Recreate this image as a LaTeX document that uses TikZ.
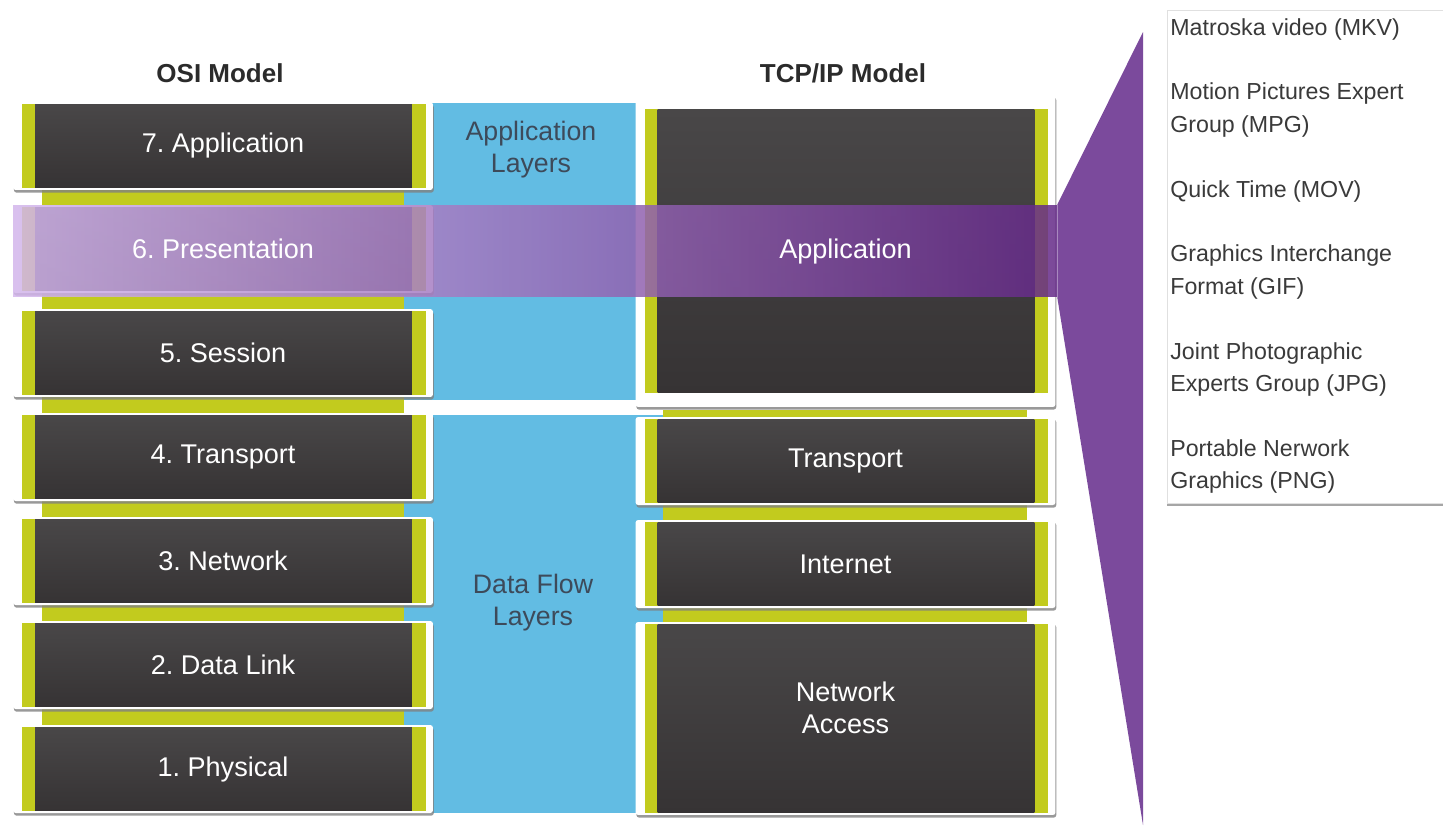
\documentclass[tikz,border=0pt]{standalone}
\usepackage{fontspec}
\setmainfont{Liberation Sans}
\frenchspacing
\usetikzlibrary{shadows}

\definecolor{boxtop}{HTML}{494748}
\definecolor{boxbot}{HTML}{363334}
\definecolor{strip}{HTML}{C2CB1E}
\definecolor{sky}{HTML}{62BCE3}
\definecolor{bandlight}{HTML}{D3B6EC}
\definecolor{banddark}{HTML}{652A88}
\definecolor{fan}{HTML}{7B4A9C}
\definecolor{skytext}{HTML}{3D4A5A}
\definecolor{listtext}{HTML}{3A3A3A}
\definecolor{titletext}{HTML}{2B2B2B}

\tikzset{
  layer/.style={fill=white, rounded corners=1.5pt, minimum width=8.4cm, minimum height=1.76cm,
    inner sep=0pt, text=white, align=center, font=\fontsize{15.4}{18}\selectfont,
    drop shadow={shadow xshift=0.5pt, shadow yshift=-1.5pt, opacity=0.8},
    path picture={
      \fill[strip, sharp corners] ([xshift=5.1pt,yshift=#1]path picture bounding box.south west)
        rectangle ([xshift=-4pt,yshift=-#1]path picture bounding box.north east);
      \shade[top color=boxtop, bottom color=boxbot, sharp corners]
        ([xshift=12.5pt,yshift=#1]path picture bounding box.south west)
        rectangle ([xshift=-12pt,yshift=-#1]path picture bounding box.north east);
    }},
  layer/.default=1.4pt,
  band/.style={left color=bandlight, right color=banddark, fill opacity=0.85,
    minimum width=20.88cm, minimum height=1.84cm, inner sep=0pt},
  bandtext/.style={text=white, align=center, font=\fontsize{15.4}{18}\selectfont},
  title/.style={text=titletext, font=\bfseries\fontsize{14.8}{18}\selectfont},
  skylabel/.style={text=skytext, align=center, font=\fontsize{15.2}{18.2}\selectfont},
  fmttext/.style={text=listtext, anchor=base west, inner sep=0pt, font=\fontsize{13.2}{18}\selectfont},
}

\begin{document}
\begin{tikzpicture}[x=0.02cm, y=-0.02cm]
  \useasboundingbox (0,0) rectangle (1443,825);

  % blue layer groups and lime backing
  \fill[sky] (404,103) rectangle (663,400);
  \fill[sky] (404,415) rectangle (663,813);
  \fill[strip] (42,110) rectangle (404,800);
  \fill[strip] (663,410) rectangle (1027,800);

  \node[skylabel] (applayers) at (531,150) {Application\\Layers};
  \node[skylabel] (flowlayers) at (533,603) {Data Flow\\Layers};

  % titles
  \node[title] (osititle) at (220,73) {OSI Model};
  \node[title] (tcptitle) at (843,73) {TCP/IP Model};

  % OSI model
  \node[layer] (osi7) at (223,146) {7. Application};
  \node[layer] (osi6) at (223,249) {};
  \node[layer] (osi5) at (223,353) {5. Session};
  \node[layer] (osi4) at (223,457) {4. Transport};
  \node[layer] (osi3) at (223,561) {3. Network};
  \node[layer] (osi2) at (223,665) {2. Data Link};
  \node[layer] (osi1) at (223,769) {1. Physical};

  % TCP/IP model
  \node[layer=8pt, minimum height=6.24cm] (tcpapp) at (845.5,251) {};
  \node[layer] (tcptrans) at (845.5,461) {Transport};
  \node[layer] (tcpnet) at (845.5,564) {Internet};
  \node[layer, minimum height=3.86cm] (tcpaccess) at (845.5,718.5) {};
  \node[bandtext] (accesstext) at (845.5,708) {Network\\Access};

  % presentation band and fan
  \node[band] (band) at (535,251) {};
  \coordinate (fantop) at (1143,32);
  \coordinate (fanbot) at (1143,825);
  \fill[fan] (band.north east) -- (fantop) -- (fanbot) -- (band.south east) -- cycle;
  \node[bandtext] (prestext) at (osi6) {6. Presentation};
  \node[bandtext] (apptext) at (tcpapp) {Application};

  % file formats
  \node[fill=white, draw=black!12, minimum width=6.06cm, minimum height=9.86cm, inner sep=0pt,
    drop shadow={shadow xshift=0pt, shadow yshift=-1.5pt, opacity=0.7}] (fmtpanel) at (1318.5,256.5) {};
  \foreach \row/\txt in {0/Matroska video (MKV), 2/Motion Pictures Expert, 3/Group (MPG),
      5/Quick Time (MOV), 7/Graphics Interchange, 8/Format (GIF), 10/Joint Photographic,
      11/Experts Group (JPG), 13/Portable Nerwork, 14/Graphics (PNG)}
    \node[fmttext] (fmt\row) at (1170,{35+32.4*\row}) {\txt};
\end{tikzpicture}
\end{document}
